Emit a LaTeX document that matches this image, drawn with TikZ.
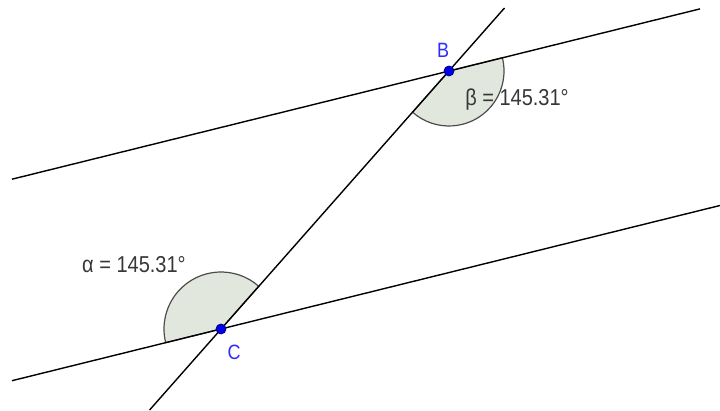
\documentclass[tikz,border=0pt]{standalone}
\usepackage{fontspec}
\setmainfont{Liberation Sans}
\usepackage{tikz}
\usetikzlibrary{positioning}
\definecolor{ptblue}{RGB}{0,0,235}
\definecolor{lblblue}{RGB}{45,45,255}
\definecolor{anglefill}{RGB}{226,231,222}
\definecolor{angletext}{RGB}{55,55,55}
\newcommand{\tallfont}[1]{\scalebox{1}[1.15]{#1}}
\tikzset{
	pt/.style={circle, fill=ptblue, draw=ptblue!55!black, line width=0.8pt, inner sep=0pt, minimum size=10pt},
	ln/.style={line width=1.4pt, black},
	sector/.style={fill=anglefill, draw=black!70, line width=1.2pt},
	ptlabel/.style={text=lblblue, font=\fontsize{18}{19}\selectfont},
	anglelabel/.style={text=angletext, font=\fontsize{20}{22}\selectfont},
}

\begin{document}
\begin{tikzpicture}[x=1pt, y=1pt]
	\useasboundingbox (0,0) rectangle (720,411);
	% Points and line ends:
	\coordinate (B) at (449,340);
	\coordinate (C) at (221,82);
	\coordinate (UL) at (12,231.8);
	\coordinate (UR) at (700,402.1);
	\coordinate (LL) at (12,30.3);
	\coordinate (LR) at (720,205.5);
	\coordinate (TB) at (149.6,1);
	\coordinate (TT) at (504.5,403);
	% Angles:
	\filldraw[sector] (B) -- ++(228.59:55) arc[start angle=228.59, end angle=373.9, radius=55] -- cycle;
	\filldraw[sector] (C) -- ++(48.59:57) arc[start angle=48.59, end angle=193.9, radius=57] -- cycle;
	% Lines:
	\draw[ln] (UL) -- (UR);
	\draw[ln] (LL) -- (LR);
	\draw[ln] (TB) -- (TT);
	% Points and labels:
	\node[pt] (Bpt) at (B){};
	\node[pt] (Cpt) at (C){};
	\node[ptlabel] (Blbl) at (443,361){\tallfont{B}};
	\node[ptlabel] (Clbl) at (234,59){\tallfont{C}};
	\node[anglelabel] (beta) at (517,311){\tallfont{β = 145.31°}};
	\node[anglelabel] (alpha) at (134,146){\tallfont{α = 145.31°}};
\end{tikzpicture}
\end{document}
